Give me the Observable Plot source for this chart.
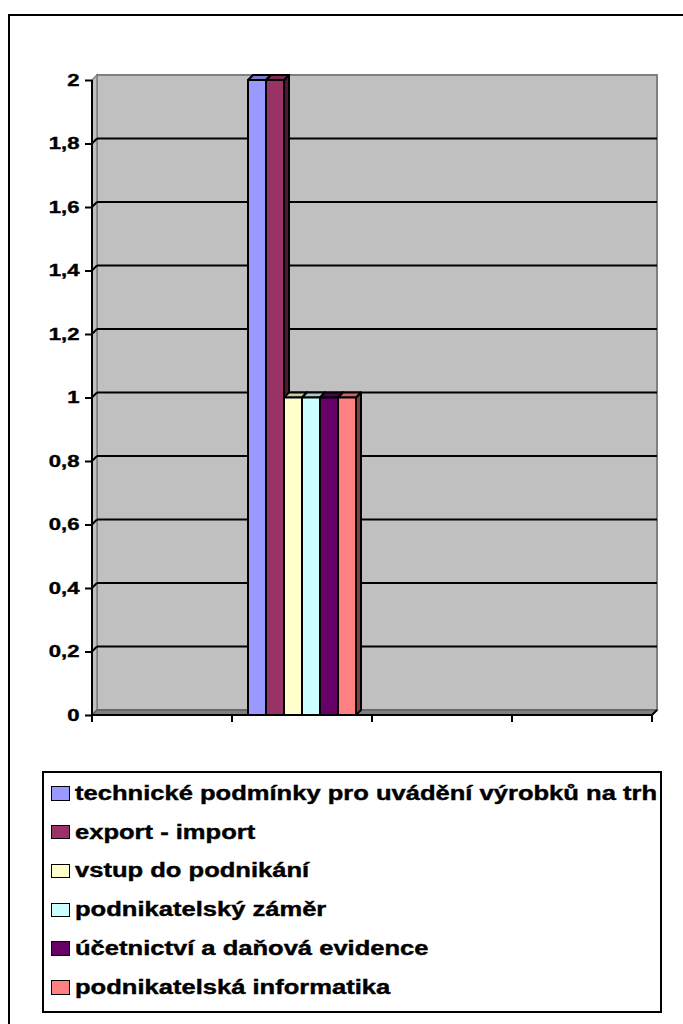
<!DOCTYPE html>
<html>
<head>
<meta charset="utf-8">
<script src="https://cdn.jsdelivr.net/npm/d3@7"></script>
<script src="https://cdn.jsdelivr.net/npm/@observablehq/plot@0.6"></script>
<style>
  html, body { margin: 0; padding: 0; background: #fff; }
  body { font-family: "Liberation Sans", Arial, sans-serif; }
  #wrap { position: relative; width: 683px; height: 1024px; overflow: hidden; }
  #outer { position: absolute; left: 8px; top: 14px; width: 720px; height: 1100px; border: 2px solid #000; box-sizing: border-box; }
  #chart { position: absolute; left: 0; top: 0; }
  #legend { position: absolute; left: 42px; top: 771px; width: 620px; height: 242px; border: 2px solid #000; box-sizing: border-box; padding-top: 1px; }
  .item { height: 38.8px; display: flex; align-items: center; white-space: nowrap; }
  .sw { width: 18.6px; height: 14.3px; border: 1.6px solid #000; box-sizing: border-box; margin-left: 7px; flex: none; }
  .lab { display: inline-block; font-weight: bold; font-size: 19.5px; transform: scaleX(1.31); transform-origin: left center; margin-left: 5.5px; color: #000; -webkit-text-stroke: 0.4px #000; }
</style>
</head>
<body>
<div id="wrap">
  <div id="outer"></div>
  <div id="chart"></div>
  <div id="legend"></div>
</div>
<script>
// ---- data ----
const categories = ["1", "2", "3", "4"];
const seriesNames = [
  "technické podmínky pro uvádění výrobků na trh",
  "export - import",
  "vstup do podnikání",
  "podnikatelský záměr",
  "účetnictví a daňová evidence",
  "podnikatelská informatika"
];
const seriesColors = ["#9999ff", "#993366", "#ffffcc", "#ccffff", "#660066", "#ff8080"];
// values per category (only category "2" holds answers; others are empty cells)
const valuesCat1 = [null, null, null, null, null, null];
const valuesCat2 = [2, 2, 1, 1, 1, 1];
const valuesCat3 = [null, null, null, null, null, null];
const valuesCat4 = [null, null, null, null, null, null];
const yTicks = [0, 0.2, 0.4, 0.6, 0.8, 1, 1.2, 1.4, 1.6, 1.8, 2];
const yTickLabels = ["0", "0,2", "0,4", "0,6", "0,8", "1", "1,2", "1,4", "1,6", "1,8", "2"];

const valuesByCategory = [valuesCat1, valuesCat2, valuesCat3, valuesCat4];
const rows = categories.flatMap((c, j) => seriesNames.map((s, i) => ({category: c, series: s, value: valuesByCategory[j][i]})));
const gridTicks = yTicks.filter(t => t > 0 && t < 2);

const depth = 5;
const NS = "http://www.w3.org/2000/svg";

function shade(c, k) {
  const r = d3.rgb(c);
  return d3.rgb(r.r * k, r.g * k, r.b * k).formatHex();
}
function el(tag, attrs) {
  const e = document.createElementNS(NS, tag);
  for (const k in attrs) e.setAttribute(k, attrs[k]);
  return e;
}
function pts(a) { return a.map(p => p.join(",")).join(" "); }

// 3D chrome: back wall, side wall, floor, gridlines, axis lines, category ticks
function chrome(index, scales, values, dim) {
  const g = el("g", {});
  const y = scales.y;
  const fx = scales.fx;
  const B = y(0), T = y(2);
  const L = fx ? fx(categories[0]) : dim.marginLeft;
  const R = fx ? fx(categories[categories.length - 1]) + fx.bandwidth() : dim.width - dim.marginRight;
  const d = depth;
  g.appendChild(el("rect", {x: L + d, y: T - d, width: R - L, height: B - T, fill: "#c0c0c0", stroke: "#808080", "stroke-width": 2}));
  g.appendChild(el("polygon", {points: pts([[L, T], [L + d, T - d], [L + d, B - d], [L, B]]), fill: "#c0c0c0", stroke: "#808080", "stroke-width": 1.5}));
  g.appendChild(el("polygon", {points: pts([[L, B], [L + d, B - d], [R + d, B - d], [R, B]]), fill: "#808080", stroke: "#606060", "stroke-width": 1.5}));
  for (const t of gridTicks) {
    g.appendChild(el("line", {x1: L, y1: y(t), x2: L + d, y2: y(t) - d, stroke: "#000", "stroke-width": 2}));
    g.appendChild(el("line", {x1: L + d, y1: y(t) - d, x2: R + d, y2: y(t) - d, stroke: "#000", "stroke-width": 2}));
  }
  g.appendChild(el("line", {x1: L, y1: T, x2: L, y2: B + 1, stroke: "#000", "stroke-width": 2}));
  g.appendChild(el("line", {x1: L - 1, y1: B, x2: R, y2: B, stroke: "#000", "stroke-width": 2}));
  g.appendChild(el("line", {x1: R, y1: B, x2: R + d, y2: B - d, stroke: "#000", "stroke-width": 2}));
  const bounds = fx ? categories.map(c => fx(c)).concat([R]) : [];
  for (const bx of bounds) {
    g.appendChild(el("line", {x1: bx, y1: B, x2: bx, y2: B + 7, stroke: "#000", "stroke-width": 2}));
  }
  return g;
}

// bars with top and side faces
function bars3d(index, scales, values, dimensions, context, next) {
  const g = next(index, scales, values, dimensions, context);
  if (!g) return g;
  for (const rect of Array.from(g.querySelectorAll("rect"))) {
    const x = +rect.getAttribute("x"), yy = +rect.getAttribute("y");
    const w = +rect.getAttribute("width"), h = +rect.getAttribute("height");
    const fill = rect.getAttribute("fill");
    const d = depth;
    const top = el("polygon", {points: pts([[x, yy], [x + d, yy - d], [x + w + d, yy - d], [x + w, yy]]), fill: shade(fill, 0.8), "stroke-linejoin": "round"});
    const side = el("polygon", {points: pts([[x + w, yy], [x + w + d, yy - d], [x + w + d, yy + h - d], [x + w, yy + h]]), fill: shade(fill, 0.5), "stroke-linejoin": "round"});
    rect.parentNode.insertBefore(side, rect);
    rect.parentNode.insertBefore(top, rect);
  }
  return g;
}

const chart = Plot.plot({
  width: 683,
  height: 740,
  marginLeft: 92,
  marginRight: 31,
  marginTop: 80,
  marginBottom: 25,
  style: {fontFamily: "'Liberation Sans', Arial, sans-serif", color: "#000", background: "transparent"},
  fx: {domain: categories, padding: 0, axis: null, label: null},
  x: {domain: seriesNames, paddingInner: 0, paddingOuter: 0.8, axis: null},
  y: {domain: [0, 2], axis: null},
  color: {domain: seriesNames, range: seriesColors},
  marks: [
    Plot.frame({facet: "super", render: chrome}),
    Plot.barY(rows, {fx: "category", x: "series", y: "value", fill: "series", filter: d => d.value != null, stroke: "#000", strokeWidth: 2, inset: 0, render: bars3d}),
    Plot.axisY({ticks: yTicks, tickFormat: d => yTickLabels[yTicks.indexOf(d)], tickSize: 7, tickPadding: 6, fontSize: 17, fontWeight: "bold", strokeWidth: 2, label: null})
  ]
});
document.getElementById("chart").appendChild(chart);

chart.querySelectorAll('g[aria-label="y-axis tick label"] text').forEach(t => {
  const tr = t.getAttribute("transform") || "";
  t.setAttribute("transform", tr + " scale(1.3,1)");
  t.setAttribute("stroke", "#000");
  t.setAttribute("stroke-width", "0.4");
});

// legend
const legend = document.getElementById("legend");
seriesNames.forEach((s, i) => {
  const item = document.createElement("div");
  item.className = "item";
  const sw = document.createElement("span");
  sw.className = "sw";
  sw.style.background = seriesColors[i];
  const lab = document.createElement("span");
  lab.className = "lab";
  lab.textContent = s;
  item.appendChild(sw);
  item.appendChild(lab);
  legend.appendChild(item);
});
</script>
</body>
</html>
